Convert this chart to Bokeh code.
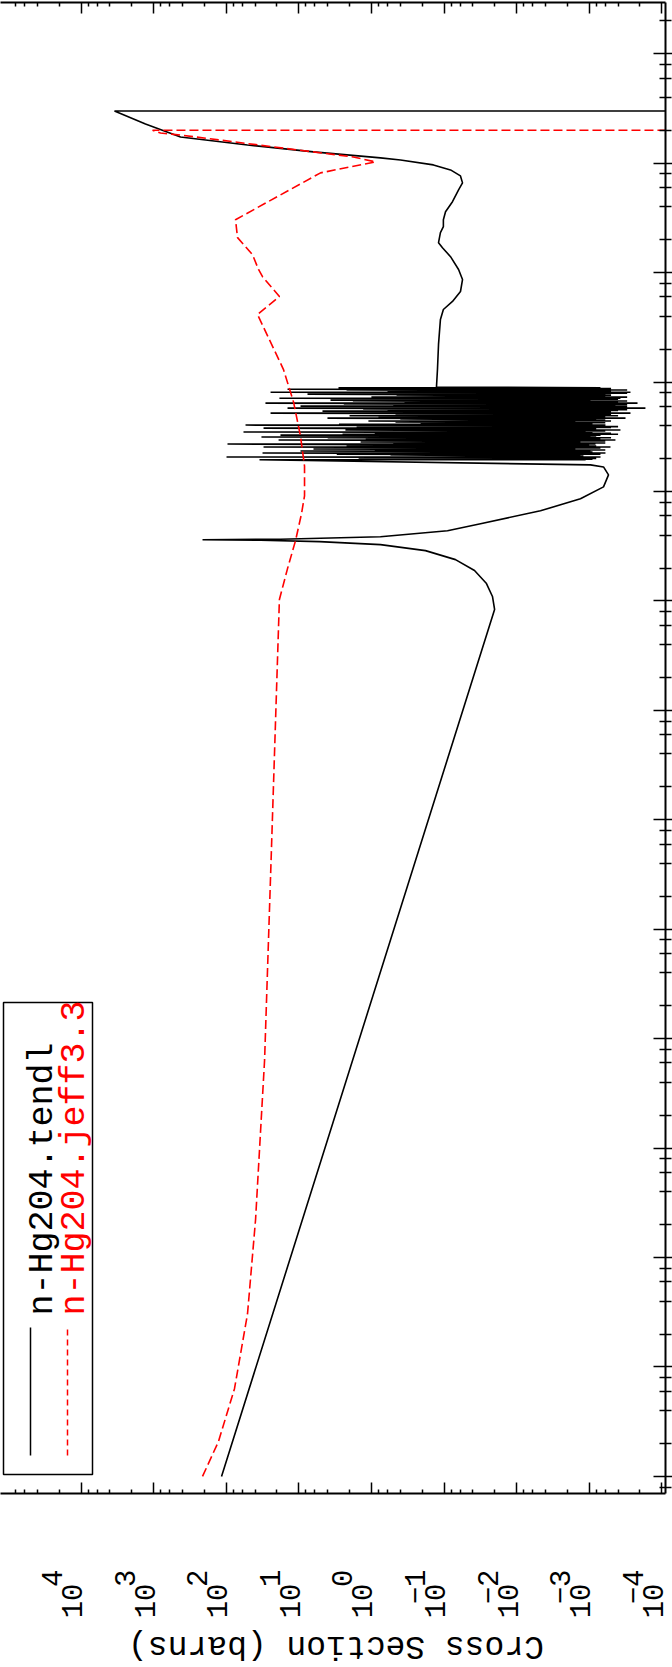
import math
from bokeh.plotting import figure
from bokeh.layouts import column
from bokeh.models import (Range1d, FixedTicker, LogAxis, Label, BoxAnnotation, Arrow,
                          CustomJSTickFormatter, Div)
from bokeh.embed import file_html
from bokeh.resources import INLINE

# ---------------- data (energy in eV, cross section in barns) ----------------
tendl_low_e = [1e-5, 836, 1099, 1443, 1897, 2388, 2884, 3273, 3483, 3590, 3631, 3670, 3865,
               4385, 5080, 6670, 8590, 1.104e4, 1.419e4, 1.679e4, 1.754e4]
tendl_low_xs = [116, 0.0201, 0.0215, 0.026, 0.038, 0.0695, 0.180, 0.75, 5.19, 33.7, 212, 17.9, 0.75,
                0.0895, 0.0314, 4.69e-3, 1.32e-3, 6.35e-4, 5.42e-4, 6.35e-4, 9.6e-4]

res_e = [1.95e4, 1.98e4, 2.01e4, 2.04e4, 2.07e4, 2.11e4, 2.16e4, 2.20e4, 2.25e4, 2.30e4,
         2.35e4, 2.40e4, 2.45e4, 2.50e4, 2.55e4, 2.60e4, 2.64e4, 2.72e4, 2.78e4, 2.84e4,
         2.90e4, 2.96e4, 3.00e4, 3.05e4, 3.10e4, 3.15e4, 3.22e4, 3.28e4, 3.34e4, 3.40e4,
         3.45e4, 3.50e4, 3.58e4, 3.65e4, 3.72e4, 3.80e4, 3.86e4, 3.92e4, 3.99e4, 4.05e4,
         4.12e4, 4.18e4, 4.25e4, 4.32e4, 4.41e4, 4.50e4, 4.60e4, 4.69e4, 4.77e4, 4.85e4,
         4.93e4, 5.00e4, 5.10e4, 5.21e4, 5.32e4, 5.43e4, 5.50e4, 5.60e4, 5.70e4, 5.78e4,
         5.90e4, 5.97e4, 6.04e4, 6.13e4, 6.23e4, 6.33e4, 6.43e4, 6.53e4, 6.63e4, 6.73e4,
         6.84e4, 6.98e4, 7.05e4, 7.13e4, 7.29e4, 7.45e4, 7.60e4, 7.76e4, 7.93e4, 8.01e4,
         8.09e4, 8.22e4, 8.35e4, 8.48e4, 8.61e4, 8.75e4, 8.89e4]
res_peak = [34.8, 1.5, 0.21, 0.02, 99, 0.081, 0.546, 3.0, 31.6, 0.0314,
            9.48, 0.9, 6.28, 0.21, 30.6, 2.2, 0.081, 96, 0.5, 1.41,
            0.21, 19.0, 1.2, 0.0314, 4.0, 32.7, 0.6, 17.9, 2.5, 0.081,
            0.9, 57.8, 0.35, 2.28, 0.21, 30.6, 1.6, 0.081, 0.7, 54.2,
            2.8, 0.21, 0.05, 0.466, 1.1, 0.0314, 0.4, 4.03, 0.8, 0.081,
            2.0, 0.466, 0.3, 24.5, 0.21, 4.72, 0.6, 0.081, 1.3, 14.3,
            0.0314, 0.9, 9.48, 0.5, 0.21, 2.4, 28.8, 0.35, 0.081, 1.8,
            3.66, 0.21, 0.7, 18.5, 1.0, 0.081, 0.45, 7.59, 0.21, 1.5,
            24.5, 0.6, 0.081, 2.2, 14.3, 0.9, 2.84]
res_valley = [1.12e-3, 9e-4, 8e-4, 1.1e-3, 6.98e-4, 1.2e-3, 1.32e-3, 7e-4, 5.97e-4, 9e-4,
              9.6e-4, 6e-4, 1.55e-3, 7e-4, 5.09e-4, 8e-4, 1.0e-3, 8.18e-4, 6e-4, 1.32e-3,
              6e-4, 4.35e-4, 7e-4, 1.1e-3, 5e-4, 9.6e-4, 8e-4, 6.98e-4, 4e-4, 5e-4,
              9e-4, 1.12e-3, 6e-4, 3.71e-4, 8e-4, 8.18e-4, 5e-4, 4e-4, 7e-4, 5.97e-4,
              9e-4, 1.0e-3, 6e-4, 1.55e-3, 5e-4, 6e-4, 8e-4, 3.16e-4, 6e-4, 7e-4,
              4e-4, 6.98e-4, 5e-4, 2.70e-4, 5e-4, 5.09e-4, 4e-4, 3e-4, 6e-4, 1.68e-4,
              6e-4, 3e-4, 4.35e-4, 6e-4, 3e-4, 5e-4, 2.16e-4, 4e-4, 5e-4, 3e-4,
              9.6e-4, 4e-4, 6e-4, 3.71e-4, 3e-4, 6e-4, 5e-4, 5.97e-4, 3e-4, 4e-4,
              2.70e-4, 6e-4, 5e-4, 3e-4, 6.98e-4, 5e-4, 7e-4]

tendl_high_e = [9.0e4, 1.31e5, 2.21e5, 3.74e5, 4.61e5, 5.46e5, 6.73e5, 8.65e5, 1.07e6,
                1.40e6, 1.69e6, 1.88e6, 2.32e6, 2.63e6, 3.05e6, 3.60e6, 4.45e6, 5.71e6,
                6.62e6, 7.66e6, 8.69e6, 9.66e6, 1.07e7, 1.12e7, 1.27e7, 1.47e7, 1.74e7,
                2.28e7, 3.0e7, 3.0e7]
tendl_high_xs = [0.127, 0.123, 0.119, 0.112, 0.102, 0.0764, 0.0593, 0.0556, 0.063,
                 0.0813, 0.105, 0.119, 0.112, 0.102, 0.102, 0.0953, 0.0764, 0.063,
                 0.0556, 0.0593, 0.0813, 0.140, 0.397, 0.75, 6.28, 50.9, 426,
                 1294, 3459, 1e-8]

jeff_e = [1e-5, 2.08e-5, 6.33e-5, 3.05e-4, 2.23e-3, 0.064, 5.46, 1033, 1977, 3556,
          6270, 9140, 1.71e4, 3.21e4, 6.56e4, 1.31e5, 4.15e5, 6.05e5, 9.20e5, 1.07e6,
          1.46e6, 2.09e6, 3.05e6, 8.17e6, 1.03e7, 1.14e7, 1.81e7, 1.89e7, 2.0e7, 2.0e7]
jeff_xs = [212, 128, 76.9, 50.9, 39.4, 29.6, 23.8, 18.5, 14.3, 11.1,
           9.18, 8.34, 8.34, 9.48, 11.8, 16.3, 37.1, 18.5, 31.6, 35.9,
           43.4, 69.8, 74.5, 5.02, 0.879, 1.77, 426, 803, 1035, 1e-8]

series_names = ["n-Hg204.tendl", "n-Hg204.jeff3.3"]
axis_title = "Cross Section (barns)"
xs_tick_exponents = [4, 3, 2, 1, 0, -1, -2, -3, -4]
energy_tick_exponents = list(range(-5, 9))

# assemble the tendl path (resonances: peak then valley at the same energy)
tendl_e = list(tendl_low_e)
tendl_xs = list(tendl_low_xs)
for e, pk, vl in zip(res_e, res_peak, res_valley):
    tendl_e += [e, e]
    tendl_xs += [pk, vl]
tendl_e += tendl_high_e
tendl_xs += tendl_high_xs

# ---------------- figure ----------------
X_LO, X_HI = 10 ** 5.109, 10 ** -4.051
Y_LO, Y_HI = 10 ** -5.156, 10 ** 8.469

p = figure(width=672, height=1621, x_axis_type="log", y_axis_type="log",
           x_range=Range1d(X_LO, X_HI), y_range=Range1d(Y_LO, Y_HI),
           y_axis_location="right", output_backend="svg", toolbar_location=None,
           min_border_left=0, min_border_top=2, min_border_right=7, min_border_bottom=123)
p.outline_line_color = None
p.grid.visible = False
p.background_fill_color = "white"
p.border_fill_color = "white"

def minor_list(exps, lo, hi):
    out = []
    for k in range(min(exps) - 1, max(exps) + 1):
        for m in (2, 4, 6, 8):
            v = m * 10.0 ** k
            if lo <= v <= hi:
                out.append(v)
    return out

x_major = [10.0 ** k for k in xs_tick_exponents]
x_minor = minor_list(xs_tick_exponents, X_HI, X_LO)
y_major = [10.0 ** k for k in energy_tick_exponents]
y_minor = minor_list(energy_tick_exponents, Y_LO, Y_HI)

FONT = "Liberation Mono"
LABEL_SIZE = "29px"
BASE_SHIFT = 0.124   # label "10" sits a little left of its tick (in decades)
EXPO_SHIFT = 0.40    # exponent sits further left, like a raised superscript

blank_formatter = CustomJSTickFormatter(code="return '';")

# tick marks of the bottom axis (labels drawn by the two label axes below)
xa = p.xaxis[0]
xa.ticker = FixedTicker(ticks=x_major, minor_ticks=x_minor)
xa.formatter = blank_formatter
xa.major_tick_in = 11
xa.major_tick_out = 0
xa.minor_tick_in = 4
xa.minor_tick_out = 0
xa.axis_line_width = 2
xa.major_tick_line_width = 1.5
xa.minor_tick_line_width = 1.5
xa.major_label_text_font_size = "1px"
xa.major_label_standoff = 0

def label_axis(shift, code, standoff):
    ax = LogAxis(ticker=FixedTicker(ticks=[10.0 ** (k + shift) for k in xs_tick_exponents],
                                    minor_ticks=[]),
                 formatter=CustomJSTickFormatter(args=dict(shift=shift), code=code),
                 axis_line_color=None, major_tick_line_color=None, minor_tick_line_color=None,
                 major_tick_in=0, major_tick_out=0, minor_tick_in=0, minor_tick_out=0,
                 major_label_orientation=math.pi / 2, major_label_text_font=FONT,
                 major_label_text_font_size=LABEL_SIZE, major_label_text_color="black",
                 major_label_standoff=standoff)
    p.add_layout(ax, "below")
    return ax

expo_axis = label_axis(EXPO_SHIFT, """
const e = Math.round(Math.log10(tick) - shift);
return e < 0 ? '\u2212' + String(-e) : String(e);
""", 76)
base_axis = label_axis(BASE_SHIFT, "return '10';", -24)

top = LogAxis(ticker=FixedTicker(ticks=x_major, minor_ticks=x_minor),
              formatter=blank_formatter,
              major_tick_in=11, major_tick_out=0, minor_tick_in=4, minor_tick_out=0,
              axis_line_width=2, major_tick_line_width=1.5, minor_tick_line_width=1.5,
              major_label_text_font_size="1px", major_label_standoff=0)
p.add_layout(top, "above")

ya = p.yaxis[0]
ya.ticker = FixedTicker(ticks=y_major, minor_ticks=y_minor)
ya.formatter = blank_formatter
ya.major_tick_in = 12
ya.major_tick_out = 7
ya.minor_tick_in = 6
ya.minor_tick_out = 6
ya.axis_line_width = 2
ya.major_tick_line_width = 1.5
ya.minor_tick_line_width = 1.5
ya.major_label_text_font_size = "1px"
ya.major_label_standoff = 0

# ---------------- curves (cross section horizontal, energy vertical) ----------------
p.line(tendl_xs, tendl_e, line_color="black", line_width=1.6)
p.line(jeff_xs, jeff_e, line_color="red", line_width=1.6, line_dash="9 4")

# ---------------- legend (rotated) ----------------
p.add_layout(BoxAnnotation(left=3, right=92, bottom=19, top=491,
                           left_units="screen", right_units="screen",
                           top_units="screen", bottom_units="screen",
                           fill_color=None, line_color="black", line_alpha=1.0,
                           line_width=1.5))
p.add_layout(Arrow(x_start=30, y_start=38, x_end=30, y_end=166,
                   start_units="screen", end_units="screen", start=None, end=None,
                   line_color="black", line_width=1.5))
p.add_layout(Arrow(x_start=67, y_start=38, x_end=67, y_end=166,
                   start_units="screen", end_units="screen", start=None, end=None,
                   line_color="red", line_width=1.5, line_dash="6 4"))
p.add_layout(Label(x=42, y=178, x_units="screen", y_units="screen", text=series_names[0],
                   angle=math.pi / 2, text_align="left", text_baseline="alphabetic",
                   text_font=FONT, text_font_size="35px", text_color="black"))
p.add_layout(Label(x=74, y=178, x_units="screen", y_units="screen", text=series_names[1],
                   angle=math.pi / 2, text_align="left", text_baseline="alphabetic",
                   text_font=FONT, text_font_size="35px", text_color="red"))

# axis title, drawn upside down as in the reference
title = Div(text=("<div style=\"font-family:'Liberation Mono';font-size:33px;"
                  "line-height:39px;height:39px;width:662px;text-align:center;"
                  "white-space:nowrap;color:black;transform:rotate(180deg);\">"
                  + axis_title + "</div>"),
            width=662, height=39)

open("out.html", "w").write(file_html(column(p, title), INLINE))
